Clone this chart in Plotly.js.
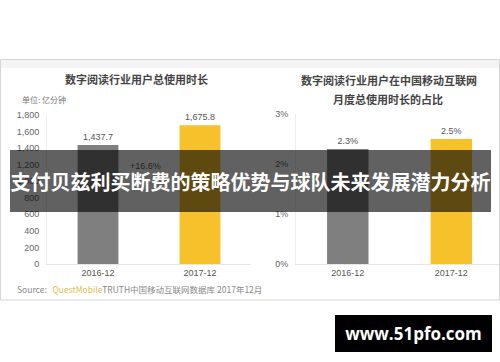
<!DOCTYPE html>
<html>
<head>
<meta charset="utf-8">
<script src="https://cdn.plot.ly/plotly-3.0.1.min.js"></script>
<style>html,body{margin:0;padding:0;background:#fff;}#chart{width:500px;height:362px;}</style>
</head>
<body>
<div id="chart"></div>
<script>
// Data
const categories = ["2016-12", "2017-12"];
const totalMinutes = [1437.7, 1675.8];          // 亿分钟
const shareOfMobile = [2.3, 2.5];               // %
const barColors = ["#7f7f7f", "#f7c12c"];
const growthLabel = "+16.6%";
const leftTitle = "数字阅读行业用户总使用时长";
const rightTitleLine1 = "数字阅读行业用户在中国移动互联网";
const rightTitleLine2 = "月度总使用时长的占比";
const unitLabel = "单位: 亿分钟";
const bannerText = "支付贝兹利买断费的策略优势与球队未来发展潜力分析";
const watermark = "www.51pfo.com";

const W = 500, H = 362;
const px = x => x / W;
const py = y => (H - y) / H;

const tickFont = {family: "Liberation Sans, Arial, sans-serif", size: 9, color: "#666"};
const cjk = "Noto Sans CJK SC, sans-serif";

const traces = [
  {
    type: "bar", x: categories, y: totalMinutes, xaxis: "x", yaxis: "y",
    marker: {color: barColors}, width: [0.4, 0.4],
    texttemplate: "%{y:,.1f}", textposition: "outside", cliponaxis: false,
    textfont: {family: tickFont.family, size: 9, color: "#555"},
    hoverinfo: "skip", showlegend: false
  },
  {
    type: "bar", x: categories, y: shareOfMobile, xaxis: "x2", yaxis: "y2",
    marker: {color: barColors}, width: [0.4, 0.4],
    texttemplate: "%{y:.1f}%", textposition: "outside", cliponaxis: false,
    textfont: {family: tickFont.family, size: 9, color: "#555"},
    hoverinfo: "skip", showlegend: false
  }
];

const axisX = {
  type: "category", showgrid: false, zeroline: false, showline: true,
  linecolor: "#e6e6e6", linewidth: 1, ticks: "", tickfont: {...tickFont, size: 9, color: "#555"},
  range: [-0.5, 1.5], fixedrange: true
};
const axisY = {
  showgrid: false, zeroline: false, showline: true, linecolor: "#eeeeee", linewidth: 1,
  ticks: "", tickfont: tickFont, ticklabelstandoff: 5, fixedrange: true
};

const layout = {
  width: W, height: H,
  margin: {l: 0, r: 0, t: 0, b: 0},
  paper_bgcolor: "#ffffff", plot_bgcolor: "rgba(0,0,0,0)",
  showlegend: false,
  bargap: 0.6,
  xaxis: {...axisX, domain: [px(47), px(251)], anchor: "y"},
  yaxis: {...axisY, domain: [py(264), py(115)], range: [0, 1800], dtick: 200, tickformat: ",", anchor: "x"},
  xaxis2: {...axisX, domain: [px(296), px(499)], range: [-0.5, 1.46], anchor: "y2"},
  yaxis2: {...axisY, domain: [py(264), py(114)], range: [0, 3], dtick: 1, ticksuffix: "%", anchor: "x2"},
  shapes: [
    {type: "rect", xref: "paper", yref: "paper", x0: px(0.5), x1: px(499.5), y0: py(300), y1: py(59.5),
     line: {color: "#d6d6d6", width: 1}, fillcolor: "#ffffff", layer: "below"},
    {type: "rect", xref: "paper", yref: "paper", x0: px(1), x1: px(499), y0: py(68), y1: py(60),
     line: {width: 0}, fillcolor: "#f4f4f4", layer: "below"}
  ],
  annotations: [
    {xref: "paper", yref: "paper", x: px(136), y: py(79), text: leftTitle, showarrow: false,
     font: {family: cjk, size: 11, color: "#444", weight: "bold"}, xanchor: "center", yanchor: "middle"},
    {xref: "paper", yref: "paper", x: px(389), y: py(80), text: rightTitleLine1, showarrow: false,
     font: {family: cjk, size: 11, color: "#444", weight: "bold"}, xanchor: "center", yanchor: "middle"},
    {xref: "paper", yref: "paper", x: px(388), y: py(99), text: rightTitleLine2, showarrow: false,
     font: {family: cjk, size: 11, color: "#444", weight: "bold"}, xanchor: "center", yanchor: "middle"},
    {xref: "paper", yref: "paper", x: px(20), y: py(100), text: unitLabel, showarrow: false,
     font: {family: cjk, size: 8, color: "#777"}, xanchor: "left", yanchor: "middle"},
    {xref: "paper", yref: "paper", x: px(145), y: py(166), text: growthLabel, showarrow: false,
     font: {family: tickFont.family, size: 9, color: "#666"}, xanchor: "center", yanchor: "middle"},
    {xref: "paper", yref: "paper", x: px(15), y: py(289),
     text: 'Source:&nbsp;&nbsp;&nbsp;<span style="color:#e2bd55">QuestMobile</span>TRUTH中国移动互联网数据库 2017年12月',
     showarrow: false, font: {family: cjk, size: 8.5, color: "#888"}, xanchor: "left", yanchor: "middle"},
    {xref: "paper", yref: "paper", x: px(250.5), y: py(181), text: bannerText, showarrow: false,
     width: 481, height: 62, bgcolor: "rgba(0,0,0,0.62)", borderpad: 0, borderwidth: 0,
     font: {family: cjk, size: 20, color: "#ffffff", weight: "bold"}, xanchor: "center", yanchor: "middle"},
    {xref: "paper", yref: "paper", x: px(413.5), y: py(333.5), text: watermark, showarrow: false,
     width: 157, height: 37, bgcolor: "#000000", borderpad: 0, borderwidth: 0,
     font: {family: "Open Sans, sans-serif", size: 17, color: "#ffffff", weight: "bold"},
     xanchor: "center", yanchor: "middle"}
  ]
};

Plotly.newPlot("chart", traces, layout, {staticPlot: true, displayModeBar: false});
</script>
</body>
</html>
